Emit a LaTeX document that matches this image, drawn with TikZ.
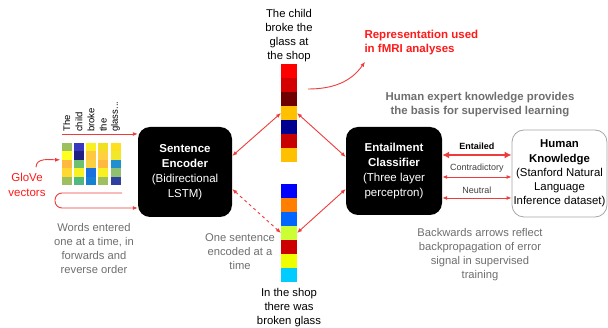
\documentclass[tikz,border=0pt]{standalone}
\usepackage{fontspec}
\setmainfont{Liberation Sans}
\usetikzlibrary{positioning, arrows.meta, calc}
\definecolor{arrowRed}{HTML}{EE3B3B}
\definecolor{labelRed}{HTML}{FF1A1A}
\definecolor{noteGray}{HTML}{6E6E6E}
\definecolor{kbBorder}{HTML}{A6A6A6}
\newcommand{\wdots}{...}
\tikzset{
  blackbox/.style={fill=black, text=white, rounded corners=12pt, minimum width=94pt, minimum height=90pt, align=center, inner sep=2pt, font=\fontsize{11.5}{15}\selectfont},
  note/.style={text=noteGray, align=center, font=\fontsize{11.2}{14}\selectfont},
  link/.style={arrowRed, line width=0.9pt, {Latex[length=5pt,width=4pt]}-{Latex[length=5pt,width=4pt]}},
  cell/.style={minimum width=16pt, minimum height=14pt, inner sep=0pt, outer sep=0pt},
  vcell/.style={minimum width=10pt, minimum height=8.4pt, inner sep=0pt, outer sep=0pt},
  choice/.style={above=1pt, text=black!75, font=\fontsize{9}{10}\selectfont}
}

\begin{document}
\begin{tikzpicture}[x=1pt, y=-1pt]
\useasboundingbox (0,0) rectangle (608,328);

% the two networks and the data set
\node (enc) [blackbox] at (185,172) {\textbf{Sentence}\\\textbf{Encoder}\\(Bidirectional\\LSTM)};
\node (cls) [blackbox, minimum width=96pt, minimum height=88pt] at (394,171) {\textbf{Entailment}\\\textbf{Classifier}\\(Three layer\\perceptron)};
\node (hk) [blackbox, fill=white, text=black, draw=kbBorder, line width=0.8pt, minimum width=95pt, minimum height=87pt, inner sep=1pt, font=\fontsize{11.4}{14.2}\selectfont] at (559.5,173.5) {\textbf{Human}\\\textbf{Knowledge}\\(Stanford Natural\\Language\\Inference dataset)};

% sentence vectors
\foreach \c [count=\i] in {FF0000,D40000,700000,FFC000,000090,C80000,FFC000} {
  \definecolor{cellc}{HTML}{\c}
  \node (t\i) [cell, fill=cellc] at (289,57+14*\i) {};
}
\foreach \c [count=\i] in {0000FF,FF8000,0066FF,CCFF33,CC0000,EEFF00,00CCFF} {
  \definecolor{cellc}{HTML}{\c}
  \node (b\i) [cell, fill=cellc] at (289,177+14*\i) {};
}
\node (sentA) [above=-1pt of t1, align=center, font=\fontsize{11.3}{13.8}\selectfont] {The child\\broke the\\glass at\\the shop};
\node (sentB) [below=3pt of b7, align=center, font=\fontsize{11.3}{13.8}\selectfont] {In the shop\\there was\\broken glass};

% word vectors
\foreach \col [count=\j] in {{9CBF60,FFFF20,FFB840,FFD830,9CBF60},
                             {3838C0,202080,6CC070,F8F020,50B880},
                             {F8F020,FFC840,F8D040,1870E0,1880D0},
                             {F0E020,FFD040,FFB840,F8F020,A0C060},
                             {FFE020,F0E828,2090D0,90C070,3040A0}} {
  \foreach \c [count=\i] in \col {
    \definecolor{cellc}{HTML}{\c}
    \node (g\j\i) [vcell, fill=cellc] at (54.5+12.2*\j,138.8+8.4*\i) {};
  }
}
\foreach \w [count=\j] in {The,child,broke,the,glass\wdots}
  \node (w\j) [rotate=90, anchor=west, inner sep=0pt, font=\fontsize{9.5}{10}\selectfont] at (54.5+12.2*\j,132) {\w};

\node (glove) [text=labelRed, align=center, font=\fontsize{11.5}{15}\selectfont] at (27,184.5) {GloVe\\vectors};
\draw[arrowRed, line width=0.9pt, -{Latex[length=5pt,width=4pt]}]
  ([xshift=9pt,yshift=2pt]glove.north) to[out=90, in=180] ([xshift=-1.5pt]g12.south west);

% words go in forwards, then backwards
\coordinate (wordsIn) at (62,134);
\draw[arrowRed, line width=0.9pt, -{Latex[length=5pt,width=4pt]}] (wordsIn) -- (wordsIn -| enc.west);
\coordinate (backStart) at (122,193);
\coordinate (backTurn) at (55,193);
\draw[arrowRed, line width=0.9pt, rounded corners=7pt, -{Latex[length=5pt,width=4pt]}]
  (backStart) -- (backTurn) -- ++(0,15) coordinate (backLow) -- (backLow -| enc.west);

% encoder <-> vectors <-> classifier
\draw[link] ([yshift=16pt]enc.east) -- (t4.west);
\draw[link] (t4.east) -- ([yshift=14pt]cls.west);
\draw[link, dashed] ([yshift=-17pt]enc.east) -- (b4.west);
\draw[link] (b4.east) -- ([yshift=-18pt]cls.west);

\node (rep) [anchor=north west, align=left, text=labelRed, font=\bfseries\fontsize{11.5}{14}\selectfont] at (361,27) {Representation used\\in fMRI analyses};
\draw[arrowRed, line width=0.9pt, -{Latex[length=5pt,width=4pt]}]
  ([xshift=11pt,yshift=3pt]t2.south east) to[out=0, in=235] ([shift={(4,3)}]rep.south west);

% labels from the data set
\draw[link, line width=2pt, {Latex[length=7pt,width=7pt]}-{Latex[length=7pt,width=7pt]}]
  ([yshift=16pt]cls.east) -- node[choice, font=\bfseries\fontsize{9}{10}\selectfont, text=black] {Entailed} ([yshift=16pt]cls.east -| hk.west);
\draw[link] ([yshift=-6pt]cls.east) -- node[choice] {Contradictory} ([yshift=-6pt]cls.east -| hk.west);
\draw[link] ([yshift=-27pt]cls.east) -- node[choice] {Neutral} ([yshift=-27pt]cls.east -| hk.west);

% notes
\node (expert) [note, font=\bfseries\fontsize{11.4}{14}\selectfont] at (480,105) {Human expert knowledge provides\\the basis for supervised learning};
\node (backNote) [note] at (480,254.5) {Backwards arrows reflect\\backpropagation of error\\signal in supervised\\training};
\node (wordNote) [note] at (94,248) {Words entered\\one at a time, in\\forwards and\\reverse order};
\node (onceNote) [note] at (240,252) {One sentence\\encoded at a\\time};

\end{tikzpicture}
\end{document}
